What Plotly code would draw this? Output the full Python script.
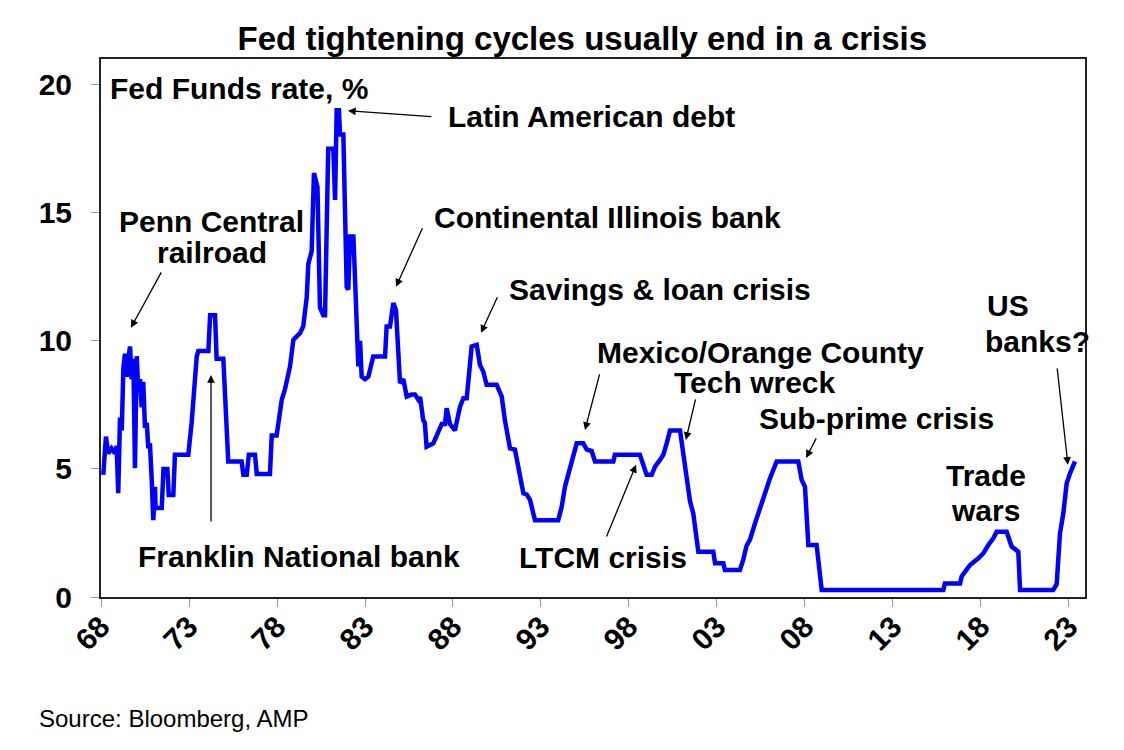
import plotly.graph_objects as go

# Fed funds rate (decimal year, %)
year = [
    1968.13, 1968.28, 1968.41, 1968.60, 1968.80, 1968.89, 1968.98, 1969.08, 1969.18, 1969.27,
    1969.36, 1969.46, 1969.55, 1969.65, 1969.74, 1969.84, 1969.93, 1970.03, 1970.12, 1970.22,
    1970.31, 1970.40, 1970.50, 1970.60, 1970.69, 1970.78, 1970.88, 1970.97, 1971.07, 1971.10,
    1971.45, 1971.55, 1971.77, 1971.85, 1972.11, 1972.20, 1972.96, 1973.15, 1973.44, 1973.53,
    1974.10, 1974.20, 1974.48, 1974.57, 1974.95, 1975.23, 1975.99, 1976.09, 1976.28, 1976.40,
    1976.75, 1976.85, 1977.60, 1977.70, 1977.98, 1978.07, 1978.27, 1978.45, 1978.74, 1978.93,
    1979.31, 1979.49, 1979.69, 1979.78, 1979.97, 1980.10, 1980.30, 1980.44, 1980.63, 1980.73,
    1980.91, 1981.20, 1981.30, 1981.39, 1981.52, 1981.58, 1981.77, 1981.96, 1982.05, 1982.15,
    1982.34, 1982.43, 1982.62, 1982.72, 1982.81, 1983.00, 1983.19, 1983.47, 1984.14, 1984.23,
    1984.42, 1984.61, 1984.76, 1984.99, 1985.18, 1985.37, 1985.65, 1985.84, 1986.03, 1986.13,
    1986.31, 1986.40, 1986.50, 1986.88, 1987.17, 1987.36, 1987.55, 1987.64, 1987.83, 1988.11,
    1988.40, 1988.59, 1988.78, 1988.97, 1989.06, 1989.35, 1989.53, 1989.72, 1989.91, 1990.48,
    1990.60, 1990.77, 1990.95, 1991.24, 1991.52, 1991.81, 1992.00, 1992.19, 1992.38, 1992.56,
    1992.66, 1993.98, 1994.18, 1994.36, 1994.55, 1994.84, 1995.03, 1995.40, 1995.60, 1995.88,
    1996.07, 1997.11, 1997.20, 1998.62, 1998.81, 1999.00, 1999.29, 1999.48, 1999.76, 1999.95,
    2000.14, 2000.33, 2000.90, 2001.09, 2001.28, 2001.47, 2001.65, 2001.94, 2002.79, 2002.89,
    2003.36, 2003.45, 2004.30, 2004.49, 2004.68, 2004.87, 2005.16, 2005.44, 2005.73, 2006.01,
    2006.39, 2007.62, 2007.81, 2008.00, 2008.19, 2008.66, 2008.95, 2015.86, 2015.95, 2016.81,
    2016.90, 2017.10, 2017.38, 2017.85, 2018.13, 2018.42, 2018.70, 2018.89, 2019.46, 2019.74,
    2020.12, 2020.22, 2022.10, 2022.30, 2022.49, 2022.68, 2022.87, 2023.06, 2023.34,
]
rate = [
    4.77, 6.26, 5.60, 5.80, 5.60, 5.90, 4.05, 7.00, 6.50, 8.90,
    9.50, 8.60, 9.30, 9.78, 8.50, 9.30, 5.03, 9.40, 8.00, 8.50,
    7.40, 8.40, 6.60, 6.80, 5.80, 6.00, 4.60, 3.00, 4.30, 3.47,
    3.47, 5.00, 5.00, 3.98, 3.98, 5.55, 5.55, 6.80, 9.39, 9.60,
    9.60, 11.00, 11.00, 9.30, 9.30, 5.29, 5.29, 4.77, 4.77, 5.55,
    5.55, 4.80, 4.80, 6.30, 6.30, 6.80, 7.70, 8.10, 9.00, 10.04,
    10.30, 10.56, 11.70, 13.00, 13.50, 16.55, 16.00, 11.30, 11.00, 11.00,
    17.50, 17.50, 15.50, 19.00, 19.00, 18.05, 18.05, 12.10, 12.00, 14.07,
    14.07, 12.50, 9.00, 10.00, 8.60, 8.50, 8.60, 9.39, 9.39, 10.56,
    10.56, 11.47, 11.20, 8.35, 8.50, 7.82, 7.90, 7.90, 7.70, 7.80,
    6.90, 6.80, 5.87, 6.00, 6.50, 6.75, 6.75, 7.37, 6.75, 6.50,
    7.43, 7.76, 7.76, 9.00, 9.78, 9.84, 9.06, 8.80, 8.28, 8.28,
    8.10, 7.82, 6.90, 5.80, 5.75, 4.83, 4.05, 4.00, 3.79, 3.27,
    3.00, 3.00, 3.53, 4.30, 4.77, 5.48, 6.00, 6.00, 5.75, 5.70,
    5.29, 5.29, 5.55, 5.55, 5.09, 4.77, 4.77, 5.09, 5.35, 5.55,
    6.00, 6.50, 6.50, 5.48, 4.57, 3.73, 3.27, 1.77, 1.77, 1.32,
    1.32, 1.05, 1.05, 1.45, 2.00, 2.23, 2.88, 3.40, 4.05, 4.63,
    5.29, 5.29, 4.57, 4.30, 2.03, 2.03, 0.27, 0.27, 0.53, 0.53,
    0.80, 0.99, 1.25, 1.51, 1.70, 2.03, 2.29, 2.55, 2.55, 1.97,
    1.77, 0.27, 0.27, 0.50, 2.49, 3.27, 4.44, 4.83, 5.29,
]

tick_years = [1968, 1973, 1978, 1983, 1988, 1993, 1998, 2003, 2008, 2013, 2018, 2023]
tick_text = ["68", "73", "78", "83", "88", "93", "98", "03", "08", "13", "18", "23"]

# label text, x, y, anchor
labels = [
    ("Fed Funds rate, %", 1968.40, 19.84, "left"),
    ("Latin American debt", 1987.60, 18.75, "left"),
    ("Penn Central", 1974.29, 14.65, "center"),
    ("railroad", 1974.31, 13.44, "center"),
    ("Continental Illinois bank", 1986.79, 14.80, "left"),
    ("Savings & loan crisis", 1991.09, 11.99, "left"),
    ("Mexico/Orange County", 1996.07, 9.55, "left"),
    ("Tech wreck", 2000.43, 8.36, "left"),
    ("Sub-prime crisis", 2005.26, 6.95, "left"),
    ("US", 2018.23, 11.37, "left"),
    ("banks?", 2018.13, 9.96, "left"),
    ("Trade", 2018.28, 4.73, "center"),
    ("wars", 2018.28, 3.36, "center"),
    ("Franklin National bank", 1969.99, 1.60, "left"),
    ("LTCM crisis", 1991.64, 1.56, "left"),
]

# arrow head x, y, tail x, y
arrows = [
    (1982.03, 18.98, 1986.86, 18.75),
    (1984.76, 12.11, 1986.30, 14.45),
    (1969.70, 10.51, 1971.47, 12.73),
    (1989.59, 10.31, 1990.56, 11.76),
    (1995.50, 6.52, 1996.35, 8.75),
    (2001.23, 6.13, 2001.80, 7.77),
    (2008.06, 5.43, 2008.68, 6.25),
    (2022.94, 5.16, 2022.32, 8.98),
    (1974.25, 8.67, 1974.25, 2.89),
    (1998.40, 5.16, 1996.69, 2.30),
]

fig = go.Figure()
fig.add_trace(go.Scatter(
    x=year, y=rate, mode="lines",
    line=dict(color="#0000FF", width=4.5),
    hoverinfo="x+y", showlegend=False,
))

anns = []
for text, x, y, anchor in labels:
    anns.append(dict(
        x=x, y=y, xref="x", yref="y", text=text, showarrow=False,
        xanchor=anchor, yanchor="middle",
        font=dict(family="Arial", size=30, color="black", weight="bold"),
    ))
for hx, hy, tx, ty in arrows:
    anns.append(dict(
        x=hx, y=hy, ax=tx, ay=ty, xref="x", yref="y", axref="x", ayref="y",
        text="", showarrow=True, arrowhead=2, arrowsize=1.2, arrowwidth=1.3,
        arrowcolor="black", standoff=0, startstandoff=0,
    ))
anns.append(dict(
    x=-0.065, y=-0.225, xref="paper", yref="paper", text="Source: Bloomberg, AMP",
    showarrow=False, xanchor="left", yanchor="middle",
    font=dict(family="Arial", size=24, color="black"),
))

# the page adds an 8px body margin, so the margins are trimmed by that much
fig.update_layout(
    width=1124, height=750,
    paper_bgcolor="white", plot_bgcolor="white",
    margin=dict(l=93, r=47, t=51, b=161),
    title=dict(
        text="Fed tightening cycles usually end in a crisis",
        x=0.511, xanchor="center", y=0.96, yanchor="middle",
        font=dict(family="Arial", size=33, color="black", weight="bold"),
    ),
    annotations=anns,
)
fig.update_xaxes(
    range=[1968, 2023.91], tickvals=tick_years, ticktext=tick_text, tickangle=-45,
    ticks="outside", ticklen=8, tickcolor="#999999", tickwidth=1,
    tickfont=dict(family="Arial", size=30, color="black", weight="bold"),
    ticklabelstandoff=-10,
    showline=True, linecolor="#222222", linewidth=2, mirror=True,
    showgrid=False, zeroline=False,
)
fig.update_yaxes(
    range=[0, 21], tickvals=[0, 5, 10, 15, 20],
    ticks="outside", ticklen=8, tickcolor="#999999", tickwidth=1,
    tickfont=dict(family="Arial", size=30, color="black", weight="bold"),
    ticklabelstandoff=13,
    showline=True, linecolor="#222222", linewidth=2, mirror=True,
    showgrid=False, zeroline=False,
)

fig.write_html("out.html")
